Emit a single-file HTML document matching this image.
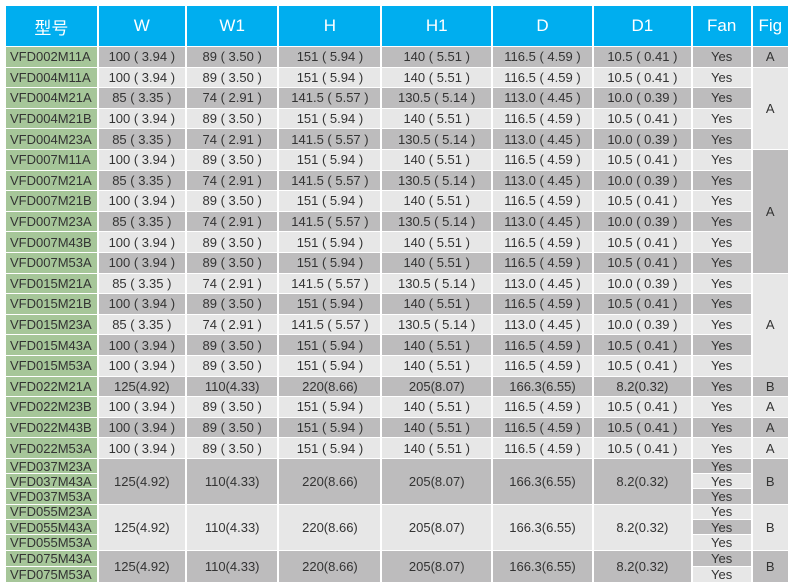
<!DOCTYPE html>
<html><head><meta charset="utf-8"><style>
body{margin:0;background:#fff;width:790px;height:586px;overflow:hidden}
table{position:absolute;left:4px;top:5px;border-collapse:separate;border-spacing:2px 1px;table-layout:fixed;font-family:"Liberation Sans","Noto Sans CJK SC",sans-serif;font-size:13px;color:#333}
td{padding:0;text-align:center;white-space:nowrap;overflow:hidden;line-height:1}
th{background:#00aeef;color:#fff;font-weight:normal;font-size:17px;height:40px;padding:0}
td.m{background:#a6c699;text-align:left;padding-left:4px;box-sizing:border-box}
.d{background:#bdbcbd}.l{background:#e7e7e7}
tr.r td{height:19.6px}
tr.g td{height:14.3px;font-size:13px}
tr.h td{height:15px;font-size:13px}
</style></head><body>
<table>
<colgroup><col style="width:91px"><col style="width:87px"><col style="width:92px"><col style="width:102px"><col style="width:110px"><col style="width:100px"><col style="width:98px"><col style="width:59px"><col style="width:36px"></colgroup>
<tr><th>型号</th><th>W</th><th>W1</th><th>H</th><th>H1</th><th>D</th><th>D1</th><th>Fan</th><th>Fig</th></tr>
<tr class="r"><td class="m">VFD002M11A</td><td class="d">100 ( 3.94 )</td><td class="d">89 ( 3.50 )</td><td class="d">151 ( 5.94 )</td><td class="d">140 ( 5.51 )</td><td class="d">116.5 ( 4.59 )</td><td class="d">10.5 ( 0.41 )</td><td class="d">Yes</td><td class="d">A</td></tr>
<tr class="r"><td class="m">VFD004M11A</td><td class="l">100 ( 3.94 )</td><td class="l">89 ( 3.50 )</td><td class="l">151 ( 5.94 )</td><td class="l">140 ( 5.51 )</td><td class="l">116.5 ( 4.59 )</td><td class="l">10.5 ( 0.41 )</td><td class="l">Yes</td><td class="l" rowspan="4">A</td></tr>
<tr class="r"><td class="m">VFD004M21A</td><td class="d">85 ( 3.35 )</td><td class="d">74 ( 2.91 )</td><td class="d">141.5 ( 5.57 )</td><td class="d">130.5 ( 5.14 )</td><td class="d">113.0 ( 4.45 )</td><td class="d">10.0 ( 0.39 )</td><td class="d">Yes</td></tr>
<tr class="r"><td class="m">VFD004M21B</td><td class="l">100 ( 3.94 )</td><td class="l">89 ( 3.50 )</td><td class="l">151 ( 5.94 )</td><td class="l">140 ( 5.51 )</td><td class="l">116.5 ( 4.59 )</td><td class="l">10.5 ( 0.41 )</td><td class="l">Yes</td></tr>
<tr class="r"><td class="m">VFD004M23A</td><td class="d">85 ( 3.35 )</td><td class="d">74 ( 2.91 )</td><td class="d">141.5 ( 5.57 )</td><td class="d">130.5 ( 5.14 )</td><td class="d">113.0 ( 4.45 )</td><td class="d">10.0 ( 0.39 )</td><td class="d">Yes</td></tr>
<tr class="r"><td class="m">VFD007M11A</td><td class="l">100 ( 3.94 )</td><td class="l">89 ( 3.50 )</td><td class="l">151 ( 5.94 )</td><td class="l">140 ( 5.51 )</td><td class="l">116.5 ( 4.59 )</td><td class="l">10.5 ( 0.41 )</td><td class="l">Yes</td><td class="d" rowspan="6">A</td></tr>
<tr class="r"><td class="m">VFD007M21A</td><td class="d">85 ( 3.35 )</td><td class="d">74 ( 2.91 )</td><td class="d">141.5 ( 5.57 )</td><td class="d">130.5 ( 5.14 )</td><td class="d">113.0 ( 4.45 )</td><td class="d">10.0 ( 0.39 )</td><td class="d">Yes</td></tr>
<tr class="r"><td class="m">VFD007M21B</td><td class="l">100 ( 3.94 )</td><td class="l">89 ( 3.50 )</td><td class="l">151 ( 5.94 )</td><td class="l">140 ( 5.51 )</td><td class="l">116.5 ( 4.59 )</td><td class="l">10.5 ( 0.41 )</td><td class="l">Yes</td></tr>
<tr class="r"><td class="m">VFD007M23A</td><td class="d">85 ( 3.35 )</td><td class="d">74 ( 2.91 )</td><td class="d">141.5 ( 5.57 )</td><td class="d">130.5 ( 5.14 )</td><td class="d">113.0 ( 4.45 )</td><td class="d">10.0 ( 0.39 )</td><td class="d">Yes</td></tr>
<tr class="r"><td class="m">VFD007M43B</td><td class="l">100 ( 3.94 )</td><td class="l">89 ( 3.50 )</td><td class="l">151 ( 5.94 )</td><td class="l">140 ( 5.51 )</td><td class="l">116.5 ( 4.59 )</td><td class="l">10.5 ( 0.41 )</td><td class="l">Yes</td></tr>
<tr class="r"><td class="m">VFD007M53A</td><td class="d">100 ( 3.94 )</td><td class="d">89 ( 3.50 )</td><td class="d">151 ( 5.94 )</td><td class="d">140 ( 5.51 )</td><td class="d">116.5 ( 4.59 )</td><td class="d">10.5 ( 0.41 )</td><td class="d">Yes</td></tr>
<tr class="r"><td class="m">VFD015M21A</td><td class="l">85 ( 3.35 )</td><td class="l">74 ( 2.91 )</td><td class="l">141.5 ( 5.57 )</td><td class="l">130.5 ( 5.14 )</td><td class="l">113.0 ( 4.45 )</td><td class="l">10.0 ( 0.39 )</td><td class="l">Yes</td><td class="l" rowspan="5">A</td></tr>
<tr class="r"><td class="m">VFD015M21B</td><td class="d">100 ( 3.94 )</td><td class="d">89 ( 3.50 )</td><td class="d">151 ( 5.94 )</td><td class="d">140 ( 5.51 )</td><td class="d">116.5 ( 4.59 )</td><td class="d">10.5 ( 0.41 )</td><td class="d">Yes</td></tr>
<tr class="r"><td class="m">VFD015M23A</td><td class="l">85 ( 3.35 )</td><td class="l">74 ( 2.91 )</td><td class="l">141.5 ( 5.57 )</td><td class="l">130.5 ( 5.14 )</td><td class="l">113.0 ( 4.45 )</td><td class="l">10.0 ( 0.39 )</td><td class="l">Yes</td></tr>
<tr class="r"><td class="m">VFD015M43A</td><td class="d">100 ( 3.94 )</td><td class="d">89 ( 3.50 )</td><td class="d">151 ( 5.94 )</td><td class="d">140 ( 5.51 )</td><td class="d">116.5 ( 4.59 )</td><td class="d">10.5 ( 0.41 )</td><td class="d">Yes</td></tr>
<tr class="r"><td class="m">VFD015M53A</td><td class="l">100 ( 3.94 )</td><td class="l">89 ( 3.50 )</td><td class="l">151 ( 5.94 )</td><td class="l">140 ( 5.51 )</td><td class="l">116.5 ( 4.59 )</td><td class="l">10.5 ( 0.41 )</td><td class="l">Yes</td></tr>
<tr class="r"><td class="m">VFD022M21A</td><td class="d">125(4.92)</td><td class="d">110(4.33)</td><td class="d">220(8.66)</td><td class="d">205(8.07)</td><td class="d">166.3(6.55)</td><td class="d">8.2(0.32)</td><td class="d">Yes</td><td class="d">B</td></tr>
<tr class="r"><td class="m">VFD022M23B</td><td class="l">100 ( 3.94 )</td><td class="l">89 ( 3.50 )</td><td class="l">151 ( 5.94 )</td><td class="l">140 ( 5.51 )</td><td class="l">116.5 ( 4.59 )</td><td class="l">10.5 ( 0.41 )</td><td class="l">Yes</td><td class="l">A</td></tr>
<tr class="r"><td class="m">VFD022M43B</td><td class="d">100 ( 3.94 )</td><td class="d">89 ( 3.50 )</td><td class="d">151 ( 5.94 )</td><td class="d">140 ( 5.51 )</td><td class="d">116.5 ( 4.59 )</td><td class="d">10.5 ( 0.41 )</td><td class="d">Yes</td><td class="d">A</td></tr>
<tr class="r"><td class="m">VFD022M53A</td><td class="l">100 ( 3.94 )</td><td class="l">89 ( 3.50 )</td><td class="l">151 ( 5.94 )</td><td class="l">140 ( 5.51 )</td><td class="l">116.5 ( 4.59 )</td><td class="l">10.5 ( 0.41 )</td><td class="l">Yes</td><td class="l">A</td></tr>
<tr class="g"><td class="m">VFD037M23A</td><td class="d" rowspan="3">125(4.92)</td><td class="d" rowspan="3">110(4.33)</td><td class="d" rowspan="3">220(8.66)</td><td class="d" rowspan="3">205(8.07)</td><td class="d" rowspan="3">166.3(6.55)</td><td class="d" rowspan="3">8.2(0.32)</td><td class="d">Yes</td><td class="d" rowspan="3">B</td></tr>
<tr class="g"><td class="m">VFD037M43A</td><td class="l">Yes</td></tr>
<tr class="g"><td class="m">VFD037M53A</td><td class="d">Yes</td></tr>
<tr class="g"><td class="m">VFD055M23A</td><td class="l" rowspan="3">125(4.92)</td><td class="l" rowspan="3">110(4.33)</td><td class="l" rowspan="3">220(8.66)</td><td class="l" rowspan="3">205(8.07)</td><td class="l" rowspan="3">166.3(6.55)</td><td class="l" rowspan="3">8.2(0.32)</td><td class="l">Yes</td><td class="l" rowspan="3">B</td></tr>
<tr class="g"><td class="m">VFD055M43A</td><td class="d">Yes</td></tr>
<tr class="g"><td class="m">VFD055M53A</td><td class="l">Yes</td></tr>
<tr class="h"><td class="m">VFD075M43A</td><td class="d" rowspan="2">125(4.92)</td><td class="d" rowspan="2">110(4.33)</td><td class="d" rowspan="2">220(8.66)</td><td class="d" rowspan="2">205(8.07)</td><td class="d" rowspan="2">166.3(6.55)</td><td class="d" rowspan="2">8.2(0.32)</td><td class="d">Yes</td><td class="d" rowspan="2">B</td></tr>
<tr class="h"><td class="m">VFD075M53A</td><td class="l">Yes</td></tr>
</table>
</body></html>
